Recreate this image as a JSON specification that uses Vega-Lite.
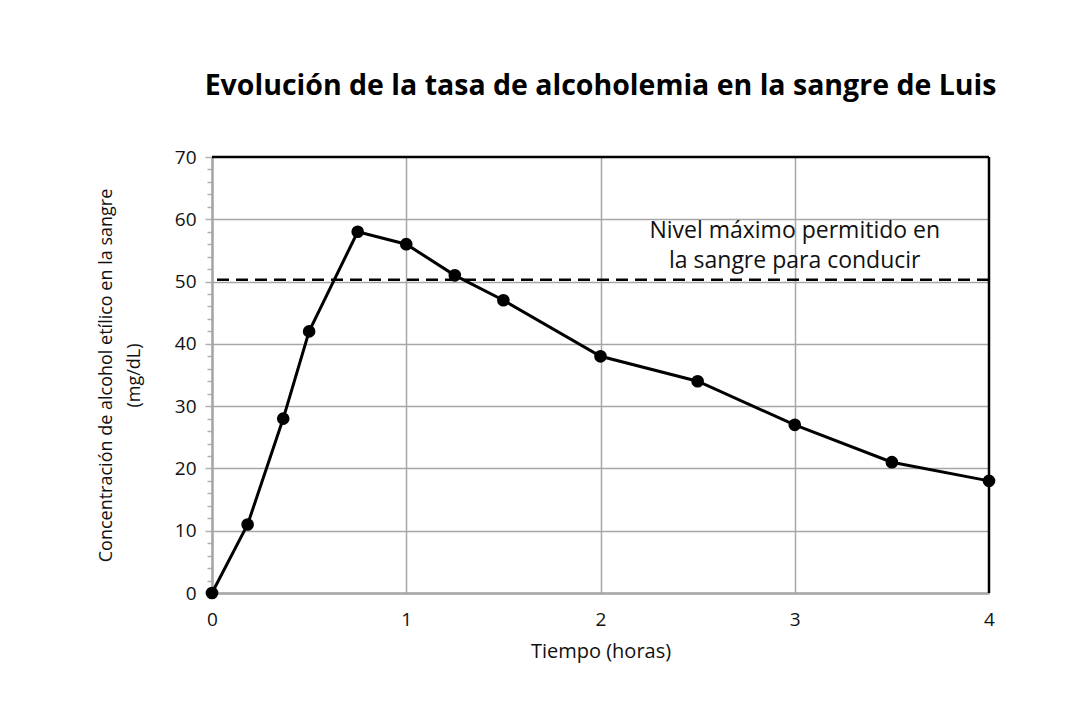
{
  "$schema": "https://vega.github.io/schema/vega-lite/v6.json",
  "autosize": "none",
  "width": 777,
  "height": 436,
  "padding": {"left": 212, "top": 157, "right": 81, "bottom": 114},
  "background": "white",
  "config": {
    "font": "Open Sans",
    "view": {"stroke": null},
    "axis": {"labelFont": "Open Sans", "titleFont": "Open Sans", "labelColor": "#111", "titleColor": "#111", "titleFontWeight": "normal"}
  },
  "title": {
    "text": "Evolución de la tasa de alcoholemia en la sangre de Luis",
    "font": "Open Sans",
    "fontSize": 28.5,
    "fontWeight": "bold",
    "color": "#000",
    "anchor": "middle",
    "offset": 48
  },
  "datasets": {
    "serie": [
      {"tiempo": 0, "conc": 0},
      {"tiempo": 0.1833, "conc": 11},
      {"tiempo": 0.3667, "conc": 28},
      {"tiempo": 0.5, "conc": 42},
      {"tiempo": 0.75, "conc": 58},
      {"tiempo": 1, "conc": 56},
      {"tiempo": 1.25, "conc": 51},
      {"tiempo": 1.5, "conc": 47},
      {"tiempo": 2, "conc": 38},
      {"tiempo": 2.5, "conc": 34},
      {"tiempo": 3, "conc": 27},
      {"tiempo": 3.5, "conc": 21},
      {"tiempo": 4, "conc": 18}
    ],
    "limite": [{"nivel": 50.3, "texto": ["Nivel máximo permitido en", "la sangre para conducir"], "tx": 3, "ty": 57.0}]
  },
  "layer": [
    {
      "data": {"name": "serie"},
      "mark": {"type": "line", "color": "black", "strokeWidth": 3},
      "encoding": {
        "x": {
          "field": "tiempo", "type": "quantitative",
          "scale": {"domain": [0, 4], "nice": false, "zero": false},
          "axis": {
            "values": [0, 1, 2, 3, 4],
            "format": "d",
            "title": "Tiempo (horas)",
            "titleFontSize": 20,
            "titlePadding": 12,
            "labelFontSize": 19,
            "labelPadding": 17,
            "ticks": false,
            "domainColor": "#a6a6a6",
            "domainWidth": 2.5,
            "gridColor": "#a6a6a6",
            "gridWidth": 1.5,
            "gridOpacity": {"condition": {"test": "datum.value < 4", "value": 1}, "value": 0},
            "labelFlush": false,
            "labelOverlap": false
          }
        },
        "y": {
          "field": "conc", "type": "quantitative",
          "scale": {"domain": [0, 70], "nice": false},
          "axis": {
            "values": [0, 2, 4, 6, 8, 10, 12, 14, 16, 18, 20, 22, 24, 26, 28, 30, 32, 34, 36, 38, 40, 42, 44, 46, 48, 50, 52, 54, 56, 58, 60, 62, 64, 66, 68, 70],
            "tickCount": 200,
            "format": "d",
            "labelExpr": "datum.value % 10 === 0 ? datum.label : ''",
            "title": ["Concentración de alcohol etílico en la sangre", "(mg/dL)"],
            "titleFontSize": 18,
            "titleLineHeight": 28,
            "titlePadding": 31,
            "labelFontSize": 19,
            "labelPadding": 9,
            "labelOverlap": false,
            "labelFlush": false,
            "labelBound": false,
            "tickSize": {"condition": {"test": "datum.value % 10 === 0", "value": 7}, "value": 5},
            "tickColor": "#b0b0b0",
            "tickWidth": 1.5,
            "domainColor": "#a6a6a6",
            "domainWidth": 2.5,
            "gridColor": "#a6a6a6",
            "gridWidth": 1.5,
            "gridOpacity": {"condition": {"test": "datum.value % 10 === 0 && datum.value < 70", "value": 1}, "value": 0}
          }
        }
      }
    },
    {
      "data": {"name": "limite"},
      "mark": {"type": "rule", "color": "black", "strokeWidth": 2.5, "strokeDash": [12, 7]},
      "encoding": {"y": {"field": "nivel", "type": "quantitative"}}
    },
    {
      "data": {"name": "limite"},
      "mark": {"type": "text", "font": "Open Sans", "fontSize": 23, "lineHeight": 30, "baseline": "alphabetic", "align": "center", "color": "#111"},
      "encoding": {
        "x": {"field": "tx", "type": "quantitative"},
        "y": {"field": "ty", "type": "quantitative"},
        "text": {"field": "texto"}
      }
    },
    {
      "data": {"name": "limite"},
      "mark": {"type": "rule", "color": "black", "strokeWidth": 2.5},
      "encoding": {"y": {"datum": 70}}
    },
    {
      "data": {"name": "limite"},
      "mark": {"type": "rule", "color": "black", "strokeWidth": 2.5},
      "encoding": {"x": {"datum": 4}}
    },
    {
      "data": {"name": "serie"},
      "mark": {"type": "point", "filled": true, "color": "black", "size": 160, "opacity": 1},
      "encoding": {
        "x": {"field": "tiempo", "type": "quantitative"},
        "y": {"field": "conc", "type": "quantitative"}
      }
    }
  ]
}
